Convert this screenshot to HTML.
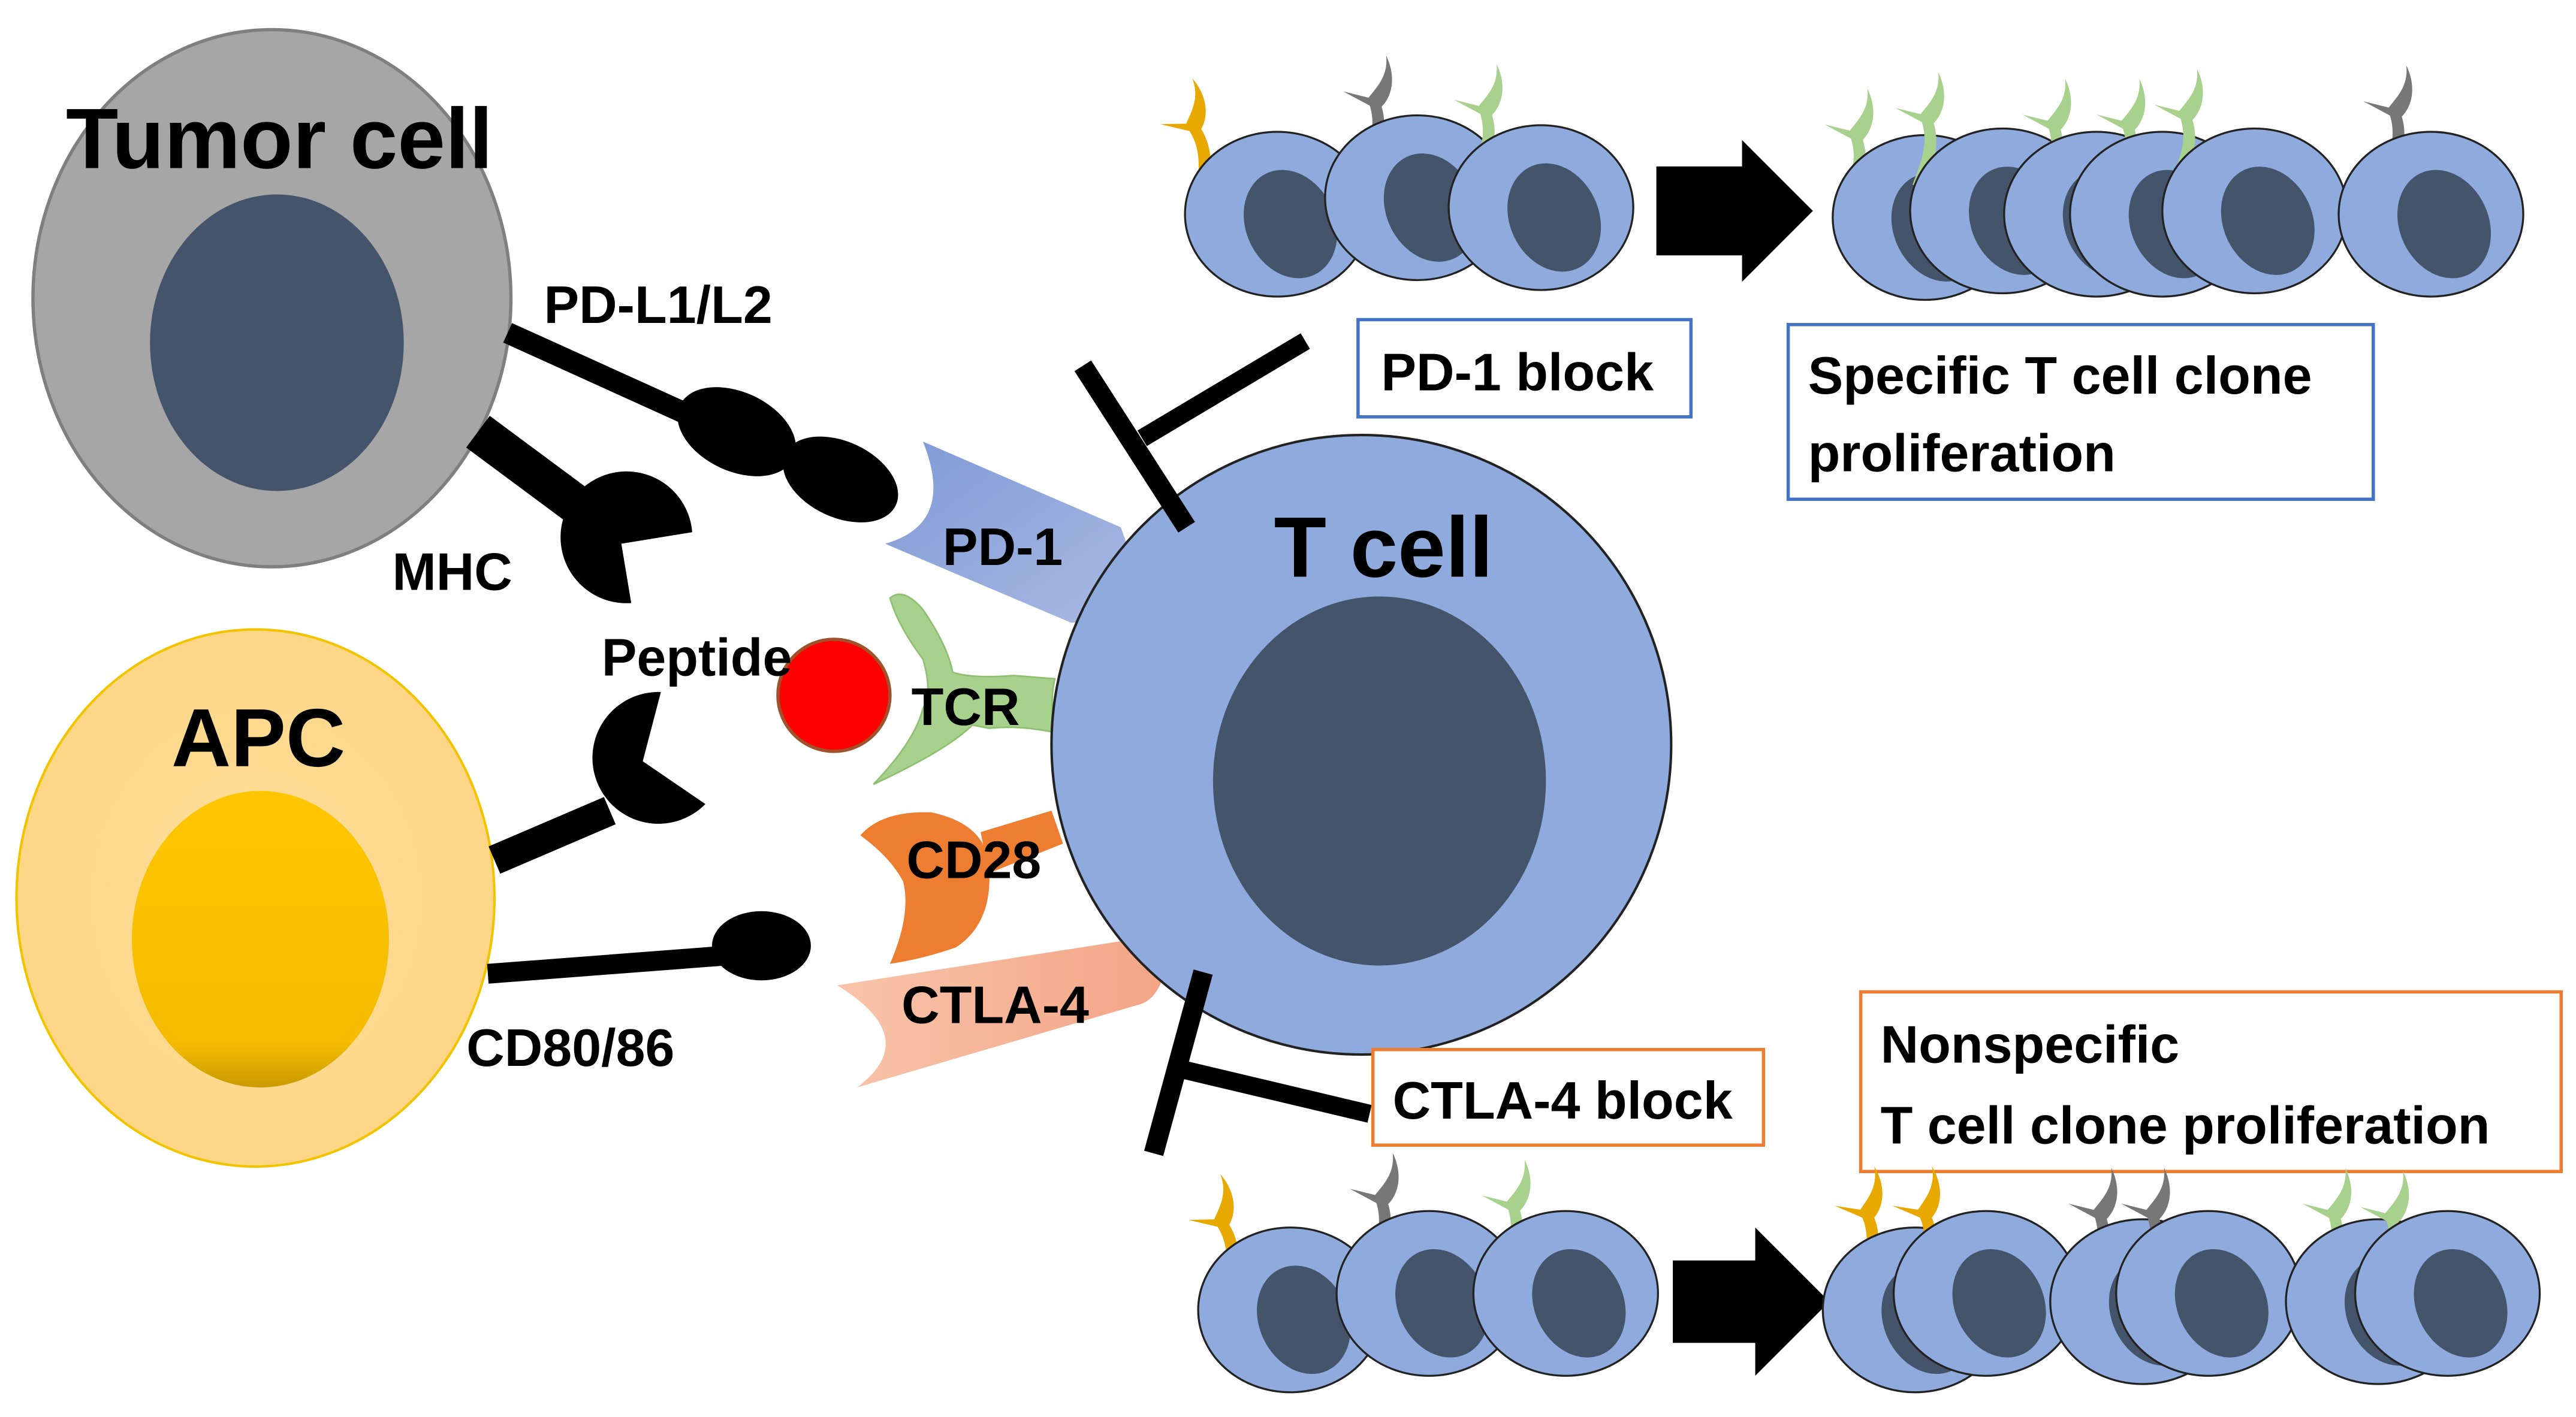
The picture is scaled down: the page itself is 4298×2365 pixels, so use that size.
<!DOCTYPE html>
<html><head><meta charset="utf-8"><style>html,body{margin:0;padding:0;background:#fff}svg{display:block}text{font-family:"Liberation Sans",sans-serif;font-weight:bold;fill:#000}</style></head><body>
<svg width="4298" height="2365" viewBox="0 0 1563 860" preserveAspectRatio="none" xmlns="http://www.w3.org/2000/svg">
<defs>
<radialGradient id="apc" cx="0.5" cy="0.5" r="0.5"><stop offset="0" stop-color="#fedf9a"/><stop offset="1" stop-color="#fdd688"/></radialGradient>
<linearGradient id="apcn" x1="0" y1="0" x2="0" y2="1"><stop offset="0" stop-color="#ffc600"/><stop offset="0.85" stop-color="#f5bc00"/><stop offset="1" stop-color="#c99a00"/></linearGradient>
<linearGradient id="pd1" x1="0" y1="0" x2="1" y2="1"><stop offset="0" stop-color="#7f9ad6"/><stop offset="1" stop-color="#a9b9e3"/></linearGradient>
<linearGradient id="ctla" x1="0" y1="0" x2="1" y2="0"><stop offset="0" stop-color="#f8c4aa"/><stop offset="1" stop-color="#f3a586"/></linearGradient>
<g id="cell"><ellipse cx="0" cy="0" rx="56" ry="50" fill="#8faadc" stroke="#222" stroke-width="1.2"/><ellipse cx="8" cy="6" rx="27" ry="34" fill="#44546a" transform="rotate(-25 8 6)"/></g>
<path id="yr" d="M-2,2 C2,-12 4,-20 0,-30 L-14,-36 L-1,-34 C3,-40 8,-46 6,-56 C12,-46 11,-36 6,-30 C10,-20 8,-10 5,2 Z" transform="scale(1.2)"/>
</defs>

<ellipse cx="165" cy="181" rx="145" ry="163" fill="#a6a6a6" stroke="#7f7f7f" stroke-width="2"/>
<ellipse cx="168" cy="208" rx="77" ry="90" fill="#44546a"/>
<text x="40" y="102" font-size="52">Tumor cell</text>

<ellipse cx="155" cy="545" rx="145" ry="163" fill="url(#apc)" stroke="#f2c400" stroke-width="1.5"/>
<ellipse cx="158" cy="570" rx="78" ry="90" fill="url(#apcn)"/>
<text x="104" y="465" font-size="50">APC</text>

<line x1="308" y1="202" x2="425" y2="255" stroke="#000" stroke-width="13"/>
<ellipse cx="447" cy="262" rx="38" ry="24" transform="rotate(25 447 262)"/>
<ellipse cx="510" cy="291" rx="37" ry="23" transform="rotate(25 510 291)"/>
<text x="330" y="196" font-size="32">PD-L1/L2</text>

<line x1="290" y1="262" x2="352" y2="308" stroke="#000" stroke-width="24"/>
<path d="M420,323 A40,40 0 1 0 383,366 L377,330 Z"/>
<text x="238" y="358" font-size="32">MHC</text>

<line x1="300" y1="522" x2="370" y2="492" stroke="#000" stroke-width="18"/>
<path d="M428,488 A40,40 0 1 1 401,420 L390,462 Z"/>

<line x1="296" y1="591" x2="440" y2="580" stroke="#000" stroke-width="12"/>
<ellipse cx="462" cy="574" rx="30" ry="21"/>
<text x="283" y="647" font-size="32">CD80/86</text>

<circle cx="506" cy="422" r="34" fill="#ff0000" stroke="#a0522d" stroke-width="2"/>
<text x="365" y="410" font-size="32">Peptide</text>

<path d="M560,268 L680,320 Q690,345 686,375 L650,378 L537,330 Q580,318 560,268 Z" fill="url(#pd1)"/>
<text x="572" y="343" font-size="32">PD-1</text>

<path d="M540,363 Q548,356 560,370 Q575,392 578,408 Q590,412 615,410 L640,412 Q636,430 642,445 Q620,440 600,442 L590,440 Q575,455 530,476 Q555,450 560,430 Q566,420 560,400 Q545,380 540,363 Z" fill="#a9d18e" stroke="#8fbf70" stroke-width="1"/>
<text x="553" y="440" font-size="32">TCR</text>

<path d="M595,505 L638,492 L645,512 L600,530 Z" fill="#ed7d31"/>
<path d="M522,507 Q535,492 565,493 Q598,500 600,525 Q603,560 580,575 Q560,582 540,585 Q553,555 548,535 Q540,520 522,507 Z" fill="#ed7d31"/>
<text x="550" y="533" font-size="32">CD28</text>

<path d="M508,598 L688,570 Q710,575 705,595 Q700,608 690,610 L520,660 Q560,630 508,598 Z" fill="url(#ctla)"/>
<text x="547" y="621" font-size="32">CTLA-4</text>

<circle cx="826" cy="452" r="188" fill="#8faadc" stroke="#222" stroke-width="1.5"/>
<ellipse cx="837" cy="474" rx="101" ry="112" fill="#44546a"/>
<text x="773" y="350" font-size="52">T cell</text>

<line x1="792" y1="207" x2="693" y2="266" stroke="#000" stroke-width="11"/>
<line x1="657" y1="222" x2="720" y2="320" stroke="#000" stroke-width="12"/>
<line x1="713" y1="648" x2="831" y2="676" stroke="#000" stroke-width="11"/>
<line x1="730" y1="590" x2="700" y2="700" stroke="#000" stroke-width="12"/>

<rect x="824" y="194" width="202" height="59" fill="#fff" stroke="#4472c4" stroke-width="2"/>
<text x="838" y="237" font-size="32">PD-1 block</text>
<rect x="1085" y="197" width="355" height="106" fill="#fff" stroke="#4472c4" stroke-width="2"/>
<text x="1097" y="239" font-size="32">Specific T cell clone</text>
<text x="1097" y="286" font-size="32">proliferation</text>
<rect x="833" y="637" width="237" height="58" fill="#fff" stroke="#ed7d31" stroke-width="2"/>
<text x="845" y="679" font-size="32">CTLA-4 block</text>
<rect x="1129" y="602" width="425" height="109" fill="#fff" stroke="#ed7d31" stroke-width="2"/>
<text x="1141" y="645" font-size="32">Nonspecific</text>
<text x="1141" y="694" font-size="32">T cell clone proliferation</text>

<use href="#yr" transform="translate(728,115) rotate(-10)" fill="#e7a800"/>
<use href="#cell" x="775" y="130"/>
<use href="#yr" transform="translate(828,100) rotate(5)" fill="#777"/>
<use href="#cell" x="860" y="120"/>
<use href="#yr" transform="translate(895,105) rotate(5)" fill="#a9d18e"/>
<use href="#cell" x="935" y="126"/>
<path d="M1005,101 L1057,101 L1057,85 L1100,128 L1057,171 L1057,155 L1005,155 Z"/>
<use href="#yr" transform="translate(1120,120) rotate(5)" fill="#a9d18e"/>
<use href="#cell" x="1168" y="132"/>
<use href="#yr" transform="translate(1163,110) rotate(5)" fill="#a9d18e"/>
<use href="#cell" x="1215" y="128"/>
<use href="#yr" transform="translate(1240,114) rotate(5)" fill="#a9d18e"/>
<use href="#cell" x="1272" y="130"/>
<use href="#yr" transform="translate(1285,114) rotate(5)" fill="#a9d18e"/>
<use href="#cell" x="1312" y="130"/>
<use href="#yr" transform="translate(1320,108) rotate(5)" fill="#a9d18e"/>
<use href="#cell" x="1368" y="128"/>
<use href="#yr" transform="translate(1447,106) rotate(5)" fill="#777"/>
<use href="#cell" x="1475" y="130"/>

<use href="#yr" transform="translate(745,780) rotate(-10)" fill="#e7a800"/>
<use href="#cell" x="783" y="795"/>
<use href="#yr" transform="translate(832,766) rotate(5)" fill="#777"/>
<use href="#cell" x="867" y="785"/>
<use href="#yr" transform="translate(912,770) rotate(5)" fill="#a9d18e"/>
<use href="#cell" x="950" y="785"/>
<path d="M1015,765 L1065,765 L1065,745 L1110,790 L1065,835 L1065,815 L1015,815 Z"/>
<use href="#yr" transform="translate(1130,775) rotate(0)" fill="#e7a800"/>
<use href="#cell" x="1162" y="795"/>
<use href="#yr" transform="translate(1165,775) rotate(0)" fill="#e7a800"/>
<use href="#cell" x="1205" y="785"/>
<use href="#yr" transform="translate(1268,775) rotate(5)" fill="#777"/>
<use href="#cell" x="1300" y="790"/>
<use href="#yr" transform="translate(1300,775) rotate(5)" fill="#777"/>
<use href="#cell" x="1340" y="785"/>
<use href="#yr" transform="translate(1410,775) rotate(5)" fill="#a9d18e"/>
<use href="#cell" x="1443" y="790"/>
<use href="#yr" transform="translate(1445,777) rotate(5)" fill="#a9d18e"/>
<use href="#cell" x="1485" y="785"/>
</svg>
</body></html>
